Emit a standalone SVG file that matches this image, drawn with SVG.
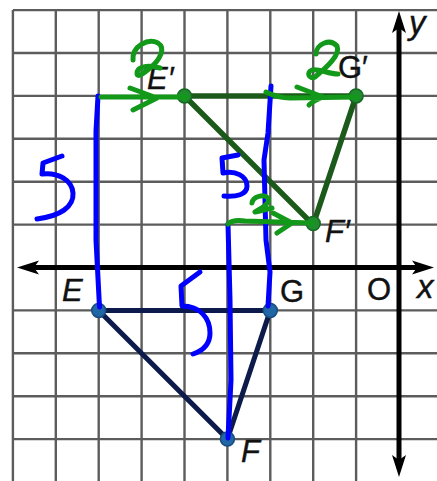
<svg xmlns="http://www.w3.org/2000/svg" width="437" height="481" viewBox="0 0 437 481">
<style>
.grid{stroke:#5c5c5c;stroke-width:2.4;fill:none}
.axis{stroke:#000;stroke-width:5;fill:none}
.head{fill:#000}
.lbl{font-family:"Liberation Sans",Arial,sans-serif;font-size:31px;fill:#111;stroke:#111;stroke-width:0.4}
.it{font-style:italic}
.ax{font-family:"Liberation Sans",Arial,sans-serif;font-size:33px;font-style:italic;fill:#111;stroke:#111;stroke-width:0.4}
.e1{stroke:#0d1b4c;stroke-width:5;stroke-linecap:round;fill:none}
.e2{stroke:#1b5a1b;stroke-width:5.5;stroke-linecap:round;fill:none}
.d1{fill:#2166a5;stroke:#174c80;stroke-width:1.5}
.d2{fill:#1f8c2e;stroke:#166a22;stroke-width:1.5}
.blue{stroke:#0000ff;stroke-width:5;fill:none;stroke-linecap:round;stroke-linejoin:round}
.green{stroke:#13991a;stroke-width:5;fill:none;stroke-linecap:round;stroke-linejoin:round}
</style>
<rect width="437" height="481" fill="#fff"/>
<g id="grid">
<path class="grid" d="M12.9,10.1H437M12.9,53H437M12.9,95.9H437M12.9,138.8H437M12.9,181.7H437M12.9,224.6H437M12.9,310.4H437M12.9,353.3H437M12.9,396.2H437M12.9,439.1H437"/>
<path class="grid" d="M12.9,10.1V481M55.8,10.1V481M98.7,10.1V481M141.6,10.1V481M184.5,10.1V481M227.4,10.1V481M270.3,10.1V481M313.2,10.1V481M356.1,10.1V481"/>
</g>
<g id="axes">
<path class="axis" d="M30,267.5H422M399,24V465"/>
<path class="head" d="M17,267.5L39,260.5L34,267.5L39,274.5Z"/>
<path class="head" d="M434,267.5L412,260.5L417,267.5L412,274.5Z"/>
<path class="head" d="M399,11L392,33L399,28L406,33Z"/>
<path class="head" d="M399,477L392,455L399,460L406,455Z"/>
<text class="ax" x="409" y="34">y</text>
<text class="ax" x="417" y="298">x</text>
<text class="lbl" x="367" y="300">O</text>
</g>
<g id="connectors">
<path class="e1" d="M98.7,310.4L270.3,310.4L227.4,439.1Z"/>
<path class="e2" d="M184.5,95.9L356.1,95.9L313.2,224.6Z"/>
</g>
<g id="node-E"><circle class="d1" cx="98.7" cy="310.4" r="7"/><text class="lbl it" x="62" y="301">E</text></g>
<g id="node-G"><circle class="d1" cx="270.3" cy="310.4" r="7"/><text class="lbl" x="280" y="302">G</text></g>
<g id="node-F"><circle class="d1" cx="227.4" cy="439.1" r="7"/><text class="lbl it" x="241" y="462">F</text></g>
<g id="node-E-prime"><circle class="d2" cx="184.5" cy="95.9" r="7"/><text class="lbl it" x="147" y="89">E′</text></g>
<g id="node-G-prime"><circle class="d2" cx="356.1" cy="95.9" r="7"/><text class="lbl" x="338" y="78">G′</text></g>
<g id="node-F-prime"><circle class="d2" cx="313.2" cy="223.6" r="7"/><text class="lbl it" x="325" y="242">F′</text></g>
<g id="annotations">
<path class="blue" d="M98,96L96,131L96,240L99.5,307"/>
<path class="blue" d="M62,156L43,163L42,174C58,172 72,180 73,193C74,207 60,216 37,219"/>
<path class="blue" d="M271,86L268,133L264,160L266,240L270,272L268,306"/>
<path class="blue" d="M238,155L222,158L223,173C235,170 247,176 247,186C247,195 236,197 224,196"/>
<path class="blue" d="M228,224L230,300L231,380L228,438"/>
<path class="blue" d="M200,272L181,286L182,306C200,306 210,318 210,333C210,345 202,351 193,354"/>
<path class="green" d="M101,97L186,97M130,88L157,98L133,110"/>
<path class="green" d="M133,60C132,46 148,38 158,43C166,48 160,60 150,68C144,73 138,78 137,74C136,68 146,64 160,68"/>
<path class="green" d="M266,92C272,95 280,98 290,98L356,97M297,87C305,90 315,94 323,97C318,99 312,102 309,105"/>
<path class="green" d="M316,54C316,44 330,38 337,46C341,55 326,68 315,77C309,80 306,72 312,70C318,68 328,74 338,74"/>
<path class="green" d="M228,224C232,220 238,220 245,221L312,223M273,213L292,223L277,233"/>
<path class="green" d="M252,203C253,196 264,194 268,198C271,203 262,208 255,212C262,211 268,209 272,208"/>
</g>
</svg>
